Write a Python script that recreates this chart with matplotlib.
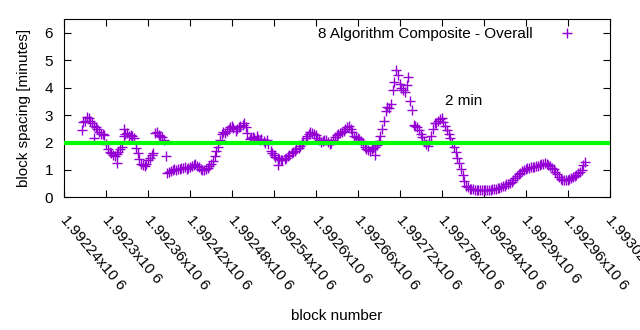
import numpy as np
import matplotlib
matplotlib.use("Agg")
import matplotlib.pyplot as plt
from matplotlib.ticker import FixedLocator, FixedFormatter
from matplotlib.transforms import ScaledTranslation

plt.rcParams["font.family"] = ["Liberation Sans", "DejaVu Sans"]
plt.rcParams["font.size"] = 11

# block spacing (minutes), sampled every 5 blocks
FIRST_BLOCK = 1992265
STEP = 5
spacing = [
    2.45, 2.80, 2.88, 2.70, 2.55, 2.40, 2.32, 1.95, 1.65, 1.55,
    1.58, 1.75, 2.25, 2.35, 2.28, 2.15, 1.60, 1.22, 1.15, 1.35,
    1.55, 2.35, 2.28, 2.20, 1.50, 0.92, 0.98, 1.00, 1.05, 1.08,
    1.05, 1.12, 1.17, 1.15, 1.05, 0.98, 1.08, 1.22, 1.50, 1.84,
    2.30, 2.35, 2.50, 2.60, 2.42, 2.55, 2.65, 2.55, 2.12, 2.20,
    2.25, 2.08, 2.05, 2.08, 1.70, 1.55, 1.42, 1.35, 1.40, 1.50,
    1.60, 1.68, 1.80, 1.95, 2.15, 2.30, 2.35, 2.26, 2.10, 2.05,
    2.08, 1.95, 2.10, 2.28, 2.35, 2.42, 2.55, 2.50, 2.25, 2.18,
    2.05, 1.82, 1.74, 1.75, 1.85, 2.05, 2.50, 3.15, 3.25, 3.90,
    4.65, 4.15, 3.90, 4.10, 3.50, 2.65, 2.55, 2.30, 2.05, 1.88,
    2.25, 2.70, 2.78, 2.90, 2.60, 2.30, 2.00, 1.65, 1.25, 0.80,
    0.42, 0.32, 0.29, 0.28, 0.27, 0.28, 0.27, 0.28, 0.30, 0.33,
    0.38, 0.43, 0.50, 0.57, 0.72, 0.85, 0.95, 1.03, 1.08, 1.10,
    1.14, 1.17, 1.22, 1.22, 1.15, 1.02, 0.85, 0.66, 0.62, 0.64,
    0.70, 0.78, 0.88, 1.00, 1.28,
]
# the in-between blocks (offset by 2)
spacing_mid = [
    2.75, 2.92, 2.80, 2.62, 2.48, 2.30, 2.28, 1.78, 1.62, 1.50,
    1.65, 1.85, 2.30, 2.22, 2.25, 1.80, 1.40, 1.18, 1.22, 1.45,
    1.62, 2.40, 2.25, 2.10, 0.90, 0.96, 1.03, 1.02, 1.08, 1.12,
    1.08, 1.15, 1.20, 1.10, 1.00, 1.02, 1.15, 1.32, 1.68, 2.10,
    2.38, 2.42, 2.55, 2.52, 2.48, 2.62, 2.70, 2.35, 2.15, 2.18,
    2.12, 2.12, 2.00, 1.95, 1.62, 1.48, 1.40, 1.38, 1.45, 1.55,
    1.65, 1.75, 1.88, 2.05, 2.22, 2.38, 2.30, 2.18, 2.02, 2.10,
    2.02, 2.00, 2.20, 2.32, 2.38, 2.48, 2.60, 2.40, 2.20, 2.12,
    1.95, 1.78, 1.70, 1.80, 1.92, 2.25, 2.80, 3.30, 3.40, 4.20,
    4.45, 4.00, 3.85, 4.40, 3.20, 2.60, 2.45, 2.20, 1.95, 2.05,
    2.50, 2.72, 2.85, 2.75, 2.45, 2.15, 1.82, 1.45, 1.05, 0.60,
    0.36, 0.30, 0.28, 0.27, 0.26, 0.27, 0.28, 0.29, 0.31, 0.35,
    0.40, 0.47, 0.53, 0.64, 0.78, 0.90, 1.00, 1.06, 1.10, 1.12,
    1.16, 1.20, 1.25, 1.18, 1.08, 0.93, 0.75, 0.62, 0.65, 0.66,
    0.74, 0.83, 0.93, 1.18,
]
# a few isolated slow / fast blocks
outlier_blocks = [1992282, 1992316, 1992325, 1992545, 1992685]
outlier_spacing = [2.15, 1.24, 2.50, 1.17, 1.54]

blocks = FIRST_BLOCK + STEP * np.arange(len(spacing))
blocks_mid = FIRST_BLOCK + 2 + STEP * np.arange(len(spacing_mid))
all_blocks = np.concatenate([blocks, blocks_mid, outlier_blocks])
all_spacing = np.concatenate([spacing, spacing_mid, outlier_spacing])

target_minutes = 2.0
tick_blocks = [1992240, 1992300, 1992360, 1992420, 1992480, 1992540, 1992600,
               1992660, 1992720, 1992780, 1992840, 1992900, 1992960, 1993020]
tick_labels = ["1.99224x10 6", "1.9923x10 6", "1.99236x10 6", "1.99242x10 6",
               "1.99248x10 6", "1.99254x10 6", "1.9926x10 6", "1.99266x10 6",
               "1.99272x10 6", "1.99278x10 6", "1.99284x10 6", "1.9929x10 6",
               "1.99296x10 6", "1.99302x10 6"]

fig = plt.figure(figsize=(6.4, 3.3), dpi=100)
ax = fig.add_axes([0.1005, 0.402, 0.852, 0.54])

ax.plot(all_blocks, all_spacing, linestyle="none", marker="+", ms=6.5,
        mew=1.0, color="#9400d3", label="8 Algorithm Composite - Overall",
        zorder=2)
ax.axhline(target_minutes, color="#00ff00", lw=3, zorder=3)
ax.text(1992785, 3.5, "2 min", ha="left", va="center", fontsize=11)

ax.set_xlim(1992240, 1993020)
ax.set_ylim(0, 6.5)
ax.yaxis.set_major_locator(FixedLocator([0, 1, 2, 3, 4, 5, 6]))
ax.xaxis.set_major_locator(FixedLocator(tick_blocks))
ax.xaxis.set_major_formatter(FixedFormatter(tick_labels))
ax.tick_params(direction="in", top=True, right=True, length=5, width=0.8)
ax.tick_params(axis="x", pad=11)
ax.tick_params(axis="y", pad=8)
nudge = ScaledTranslation(3 / 72, 0, fig.dpi_scale_trans)
for lbl in ax.get_xticklabels():
    lbl.set_rotation(-50)
    lbl.set_ha("left")
    lbl.set_va("top")
    lbl.set_rotation_mode("anchor")
    lbl.set_transform(lbl.get_transform() + nudge)

ax.set_xlabel("block number", labelpad=12)
ax.set_ylabel("block spacing [minutes]", labelpad=10)

ax.legend(loc="upper right", bbox_to_anchor=(0.973, 1.015), frameon=False,
          markerfirst=False, handlelength=2.2, handletextpad=1.2,
          borderaxespad=0.3)

fig.savefig("out.png", dpi=100)
